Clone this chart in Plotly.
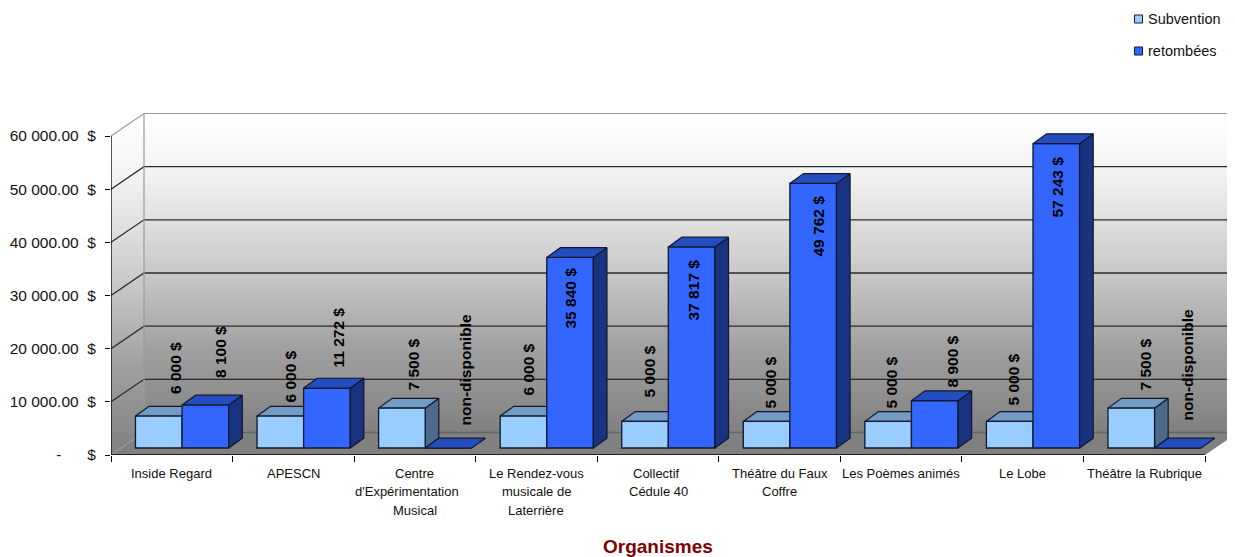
import plotly.graph_objects as go

# ---- data ----
categories = ["Inside Regard", "APESCN", "Centre<br>d'Expérimentation<br>Musical",
              "Le Rendez-vous<br>musicale de<br>Laterrière", "Collectif<br>Cédule 40",
              "Théâtre du Faux<br>Coffre", "Les Poèmes animés", "Le Lobe", "Théâtre la Rubrique"]
subvention = [6000, 6000, 7500, 6000, 5000, 5000, 5000, 5000, 7500]
retombees = [8100, 11272, 0, 35840, 37817, 49762, 8900, 57243, 0]
subvention_labels = ["6 000 $", "6 000 $", "7 500 $", "6 000 $", "5 000 $", "5 000 $", "5 000 $", "5 000 $", "7 500 $"]
retombees_labels = ["8 100 $", "11 272 $", "non-disponible", "35 840 $", "37 817 $", "49 762 $", "8 900 $", "57 243 $", "non-disponible"]
y_ticks = [0, 10000, 20000, 30000, 40000, 50000, 60000]
y_ticktext = ["-\u00a0\u00a0\u00a0\u00a0\u00a0\u00a0$"] + [f"{v//1000} 000.00\u00a0\u00a0$" for v in y_ticks[1:]]

# ---- label placement (page pixels: x, y centre) ----
sub_label_px = [(175, 368), (289.5, 377), (412.5, 365), (527.5, 370), (648.5, 372), (769.5, 383), (890.5, 383), (1012.5, 380), (1144.5, 365)]
ret_label_px = [(220, 352), (337.5, 338), (464.5, 370), (569.5, 298), (692.5, 290), (817.5, 226), (951.5, 362), (1056.5, 187), (1186.5, 365)]
category_line_shift = {"d'Expérimentation": -8, "Collectif": -2}

# ---- geometry (page pixels; the page body adds an 8px offset to the figure) ----
W, H = 1235, 557
PAGE_OFFSET = 8
LEFT, BOTTOM_PX, TOP_PX = 111, 455, 100
CAT_PX = 121.56
VAL_PX = 319 / 60000
n = len(categories)
px_x = lambda p: (p - LEFT) / CAT_PX - 0.5
px_y = lambda p: (BOTTOM_PX - p) / VAL_PX
x_range = [-0.5, px_x(W)]
y_range = [0, px_y(TOP_PX)]
wall_dx, wall_dy = 33 / CAT_PX, 22.5 / VAL_PX
bar_w = 46.6 / CAT_PX
bar_dx, bar_dy = 13.6 / CAT_PX, 9.8 / VAL_PX
base = 7 / VAL_PX
x_sub = [i + (158.8 - 171.8) / CAT_PX for i in range(n)]
x_ret = [i + (205.4 - 171.8) / CAT_PX for i in range(n)]
x_end = n - 0.5
x_wall_end = x_end + wall_dx

fig = go.Figure()

# walls and floor
ymax = y_ticks[-1]
stops = [[0, "#808080"], [0.26, "#a0a0a0"], [0.42, "#bbbbbb"], [0.5, "#c8c8c8"],
         [0.67, "#e0e0e0"], [0.84, "#f5f5f5"], [1, "#ffffff"]]
fig.add_trace(go.Scatter(x=[-0.5 + wall_dx, x_wall_end, x_wall_end, -0.5 + wall_dx],
                         y=[wall_dy, wall_dy, ymax + wall_dy, ymax + wall_dy],
                         fill="toself",
                         fillgradient=dict(type="vertical", colorscale=stops, start=wall_dy, stop=ymax + wall_dy),
                         mode="none", hoverinfo="skip", showlegend=False))
fig.add_trace(go.Scatter(x=[-0.5, -0.5 + wall_dx, -0.5 + wall_dx, -0.5],
                         y=[0, wall_dy, ymax + wall_dy, ymax],
                         fill="toself",
                         fillgradient=dict(type="vertical", colorscale=stops, start=0, stop=ymax + wall_dy),
                         mode="none", hoverinfo="skip", showlegend=False))
fig.add_trace(go.Scatter(x=[-0.5, -0.5 + wall_dx, x_wall_end, x_end, -0.5],
                         y=[0, wall_dy, wall_dy, 0, 0],
                         fill="toself", fillcolor="#808080", mode="none", hoverinfo="skip", showlegend=False))

# grid lines on the walls
gx, gy = [], []
for v in y_ticks[1:-1]:
    gx += [-0.5, -0.5 + wall_dx, x_wall_end, None]
    gy += [v, v + wall_dy, v + wall_dy, None]
fig.add_trace(go.Scatter(x=gx, y=gy, mode="lines", line=dict(color="#2b2b2b", width=1.3), hoverinfo="skip", showlegend=False))
fig.add_trace(go.Scatter(
    x=[-0.5, -0.5 + wall_dx, x_wall_end, None, -0.5 + wall_dx, -0.5 + wall_dx, None, -0.5, -0.5 + wall_dx],
    y=[ymax, ymax + wall_dy, ymax + wall_dy, None, ymax + wall_dy, wall_dy, None, 0, wall_dy],
    mode="lines", line=dict(color="#9a9a9a", width=1.2), hoverinfo="skip", showlegend=False))
fig.add_trace(go.Scatter(x=[-0.5 + wall_dx, x_wall_end], y=[wall_dy, wall_dy], mode="lines",
                         line=dict(color="#666666", width=1.3), hoverinfo="skip", showlegend=False))


def top_faces(xs, vals):
    px, py = [], []
    for x, v in zip(xs, vals):
        t = base + v
        l, r = x - bar_w / 2, x + bar_w / 2
        px += [l, r, r + bar_dx, l + bar_dx, l, None]
        py += [t, t, t + bar_dy, t + bar_dy, t, None]
    return px, py


def side_faces(xs, vals):
    px, py = [], []
    for x, v in zip(xs, vals):
        if v == 0:
            continue
        t = base + v
        r = x + bar_w / 2
        px += [r, r + bar_dx, r + bar_dx, r, r, None]
        py += [base, base + bar_dy, t + bar_dy, t, base, None]
    return px, py


def faces(xs, vals, top_color, side_color, ax):
    for (px, py), col in ((side_faces(xs, vals), side_color), (top_faces(xs, vals), top_color)):
        fig.add_trace(go.Scatter(x=px, y=py, fill="toself", fillcolor=col, mode="lines",
                                 line=dict(color="#10182a", width=1.2), hoverinfo="skip",
                                 showlegend=False, xaxis=ax[0], yaxis=ax[1]))


# light bars: depth faces sit behind everything drawn on the overlay axes
faces(x_sub, subvention, "#739ac5", "#4d6a8a", ("x", "y"))

# front faces on the overlay axes
fig.add_trace(go.Bar(name="Subvention", x=x_sub, y=subvention, base=base, width=bar_w,
                     marker=dict(color="#99ccff", line=dict(color="#10182a", width=1.3)),
                     xaxis="x2", yaxis="y2", showlegend=False))
fig.add_trace(go.Bar(name="retombées", x=x_ret, y=retombees, base=base, width=bar_w,
                     marker=dict(color="#3366ff", line=dict(color="#10182a", width=1.3)),
                     xaxis="x2", yaxis="y2", showlegend=False))
faces(x_ret, retombees, "#264dbf", "#1a3380", ("x2", "y2"))

# axis lines
fig.add_trace(go.Scatter(x=[-0.5, -0.5, x_end], y=[ymax, 0, 0], mode="lines",
                         line=dict(color="#000000", width=1.3), hoverinfo="skip", showlegend=False,
                         xaxis="x2", yaxis="y2"))

ann = []
for labels, places in ((subvention_labels, sub_label_px), (retombees_labels, ret_label_px)):
    for t, (lx, ly) in zip(labels, places):
        ann.append(dict(x=px_x(lx), y=px_y(ly), text=f"<b>{t}</b>", textangle=-90, showarrow=False, xanchor="center",
                        yanchor="middle", font=dict(family="Liberation Sans", size=15.5, color="#000000"),
                        xref="x", yref="y"))

# category labels, one annotation per line for the wide line spacing
for i, c in enumerate(categories):
    for k, line in enumerate(c.split("<br>")):
        ann.append(dict(x=i, y=0, yshift=-(18 + 18.5 * k), xshift=category_line_shift.get(line, 0), text=line,
                        showarrow=False, xanchor="center", yanchor="middle", xref="x", yref="y",
                        font=dict(family="Liberation Sans", size=13, color="#111111")))

# axis title
ann.append(dict(x=(n - 1) / 2, y=0, yshift=-91, text="<b>Organismes</b>", showarrow=False, xref="x", yref="y",
                xanchor="center", yanchor="middle",
                font=dict(family="Liberation Sans", size=19, color="#800000")))

# legend
paper_x = lambda p: (p - LEFT) / (W - LEFT)
paper_y = lambda p: (BOTTOM_PX - p) / (BOTTOM_PX - TOP_PX)
shapes = []
legend_items = [("Subvention", "#99ccff", 19), ("retombées", "#3366ff", 51)]
for name, col, ly in legend_items:
    ann.append(dict(x=paper_x(1148), y=paper_y(ly), xref="paper", yref="paper", text=name, showarrow=False,
                    xanchor="left", xshift=-2, yanchor="middle",
                    font=dict(family="Liberation Sans", size=14.5, color="#111111")))
    shapes.append(dict(type="rect", xref="paper", yref="paper", x0=paper_x(1134.5), x1=paper_x(1142.5),
                       y0=paper_y(ly + 4), y1=paper_y(ly - 4), fillcolor=col,
                       line=dict(color="#10182a", width=1)))

fig.update_layout(
    width=W - PAGE_OFFSET, height=H - PAGE_OFFSET,
    margin=dict(l=LEFT - PAGE_OFFSET, r=0, t=TOP_PX - PAGE_OFFSET, b=H - BOTTOM_PX),
    paper_bgcolor="#ffffff", plot_bgcolor="#ffffff", barmode="overlay", showlegend=False,
    font=dict(family="Liberation Sans", color="#111111"),
    xaxis=dict(range=x_range, showgrid=False, zeroline=False, showline=False, ticks="outside", ticklen=6,
               tickcolor="#000000", tickwidth=1.2, tickmode="array",
               tickvals=[i - 0.5 for i in range(n + 1)], showticklabels=False),
    yaxis=dict(range=y_range, showgrid=False, zeroline=False, showline=False, ticks="outside", ticklen=5,
               tickcolor="#000000", tickwidth=1.2, tickmode="array", tickvals=y_ticks, ticktext=y_ticktext,
               tickfont=dict(family="Liberation Sans", size=15.5, color="#111111"), ticklabelstandoff=6),
    xaxis2=dict(range=x_range, overlaying="x", visible=False),
    yaxis2=dict(range=y_range, overlaying="y", visible=False),
    annotations=ann, shapes=shapes,
)
fig.write_html("out.html")
